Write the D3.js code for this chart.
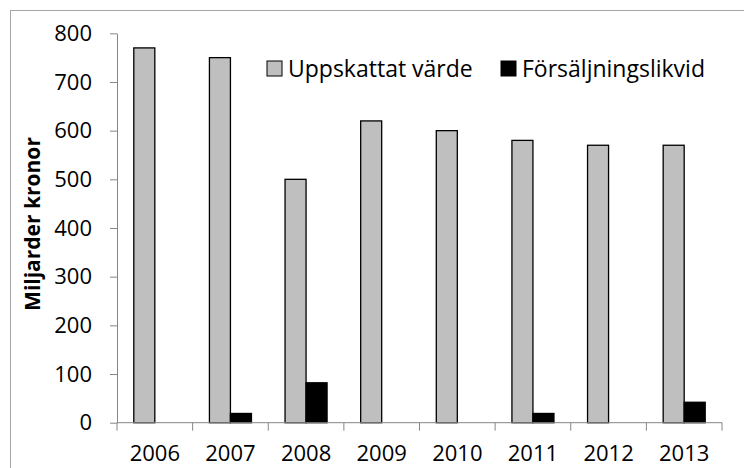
<!DOCTYPE html>
<html>
<head>
<meta charset="utf-8">
<script src="https://cdn.jsdelivr.net/npm/d3@7"></script>
<style>
  body { margin: 0; background: #fff; }
  text { font-family: "Open Sans", sans-serif; fill: #000; }
</style>
</head>
<body>
<div id="chart"></div>
<script>
var years = ["2006", "2007", "2008", "2009", "2010", "2011", "2012", "2013"];
var seriesNames = ["Uppskattat värde", "Försäljningslikvid"];
var uppskattat = [770, 750, 500, 620, 600, 580, 570, 570];
var likvid = [0, 19, 82, 0, 0, 19, 0, 42];
var yTicks = [0, 100, 200, 300, 400, 500, 600, 700, 800];
var seriesColors = ["#bfbfbf", "#000000"];

var width = 744;
var height = 468;

var svg = d3.select('#chart')
  .append('svg')
  .attr('width', width)
  .attr('height', height);

// outer chart border (right and bottom edges fall outside the picture)
svg.append('rect')
  .attr('x', 10.5)
  .attr('y', 10.5)
  .attr('width', 760)
  .attr('height', 480)
  .attr('fill', 'none')
  .attr('stroke', '#a6a6a6')
  .attr('stroke-width', 1);

var x = d3.scaleBand()
  .domain(years)
  .range([117, 722]);

var inner = d3.scaleBand()
  .domain(seriesNames)
  .range([16.8, x.bandwidth() - 16.8]);

var y = d3.scaleLinear()
  .domain([0, 800])
  .range([422.7, 33.3]);

var rows = years.map(function(yr, i) {
  return { year: yr, values: [uppskattat[i], likvid[i]] };
});

var groups = svg.selectAll('.year')
  .data(rows)
  .enter()
  .append('g')
  .attr('class', 'year')
  .attr('transform', function(d) { return 'translate(' + x(d.year) + ',0)'; });

groups.selectAll('rect')
  .data(function(d) {
    return d.values.map(function(v, j) { return { name: seriesNames[j], value: v, j: j }; });
  })
  .enter()
  .filter(function(d) { return d.value > 0; })
  .append('rect')
  .attr('x', function(d) { return inner(d.name); })
  .attr('y', function(d) { return y(d.value); })
  .attr('width', inner.bandwidth())
  .attr('height', function(d) { return y(0) - y(d.value); })
  .attr('fill', function(d) { return seriesColors[d.j]; })
  .attr('stroke', '#000')
  .attr('stroke-width', 1.3);

// y axis
var yAxis = svg.append('g')
  .attr('transform', 'translate(117,0)')
  .call(d3.axisLeft(y).tickValues(yTicks).tickSize(7).tickPadding(18).tickSizeOuter(0));
yAxis.select('.domain').attr('stroke', '#868686');
yAxis.selectAll('.tick line').attr('stroke', '#868686');
yAxis.selectAll('text')
  .style('font-size', '22px')
  .attr('fill', '#000');

// x axis with ticks between categories
var xAxis = svg.append('g')
  .attr('transform', 'translate(0,' + y(0) + ')');
xAxis.append('line')
  .attr('x1', x.range()[0])
  .attr('x2', x.range()[1])
  .attr('stroke', '#868686');
xAxis.selectAll('.sep')
  .data(years.concat(['end']))
  .enter()
  .append('line')
  .attr('class', 'sep')
  .attr('x1', function(d, i) { return x.range()[0] + i * x.bandwidth(); })
  .attr('x2', function(d, i) { return x.range()[0] + i * x.bandwidth(); })
  .attr('y1', 0)
  .attr('y2', 8)
  .attr('stroke', '#868686');
xAxis.selectAll('.lbl')
  .data(years)
  .enter()
  .append('text')
  .attr('x', function(d) { return x(d) + x.bandwidth() / 2; })
  .attr('y', 38)
  .attr('text-anchor', 'middle')
  .style('font-size', '22px')
  .text(function(d) { return d; });

// axis title
svg.append('text')
  .attr('transform', 'translate(40,224) rotate(-90)')
  .attr('text-anchor', 'middle')
  .style('font-size', '21px')
  .style('font-weight', 'bold')
  .text('Miljarder kronor');

// legend
var legendX = [267, 501];
var legend = svg.selectAll('.legend')
  .data(seriesNames)
  .enter()
  .append('g')
  .attr('class', 'legend')
  .attr('transform', function(d, i) { return 'translate(' + legendX[i] + ',61)'; });

legend.append('rect')
  .attr('width', 15)
  .attr('height', 15)
  .attr('fill', function(d, i) { return seriesColors[i]; })
  .attr('stroke', '#000')
  .attr('stroke-width', 1);

legend.append('text')
  .attr('x', 21)
  .attr('y', 15.5)
  .style('font-size', '23px')
  .text(function(d) { return d; });
</script>
</body>
</html>
